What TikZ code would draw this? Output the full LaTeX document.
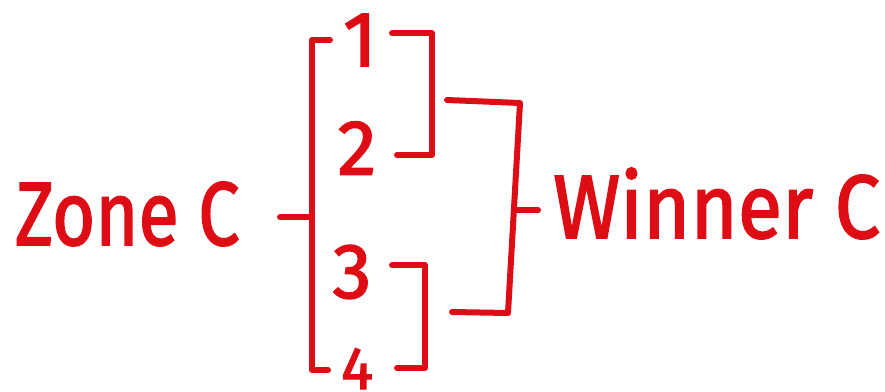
\documentclass[tikz,border=0pt]{standalone}
\usepackage{fontspec}
\setmainfont{Fira Sans}
\newfontfamily\handfont{Fira Sans}[FakeBold=2]
\definecolor{ink}{RGB}{222,12,20}

\tikzset{
  pen/.style={ink, line width=6pt, line cap=round, line join=round},
  handtext/.style={ink, font=\fontsize{90}{90}\handfont, inner sep=0pt, anchor=base west},
  seednum/.style={ink, font=\fontsize{78}{78}\handfont, inner sep=0pt}
}

\begin{document}
\begin{tikzpicture}[x=1pt, y=1pt]
  \useasboundingbox (0,0) rectangle (885,-391);

  \node[handtext] (zone) at (15,-245) {\scalebox{0.82}[1]{Zone C}};
  \node[handtext] (winner) at (553,-238) {\scalebox{0.9}[1]{Winner C}};

  \node[seednum] (s1) at (360,-40) {1};
  \node[seednum] (s2) at (357,-148) {2};
  \node[seednum] (s3) at (352,-272) {3};
  \node[seednum, font=\fontsize{60}{60}\handfont, anchor=base] (s4) at (357,-389) {4};

  % first round
  \coordinate (zmid) at (312,-217);
  \draw[pen] (330,-40) -- (312,-40) -- (312,-370) -- (328,-370);
  \draw[pen] (zmid) -- ++(-32,0);
  \draw[pen] (392,-33) -- (432,-33) -- (432,-155) -- (397,-155);
  \draw[pen] (392,-265) -- (425,-265) -- (425,-368) -- (397,-368);

  % final
  \coordinate (wmid) at (514,-210);
  \draw[pen] (447,-100) -- (520,-103) -- (508,-313) -- (452,-312);
  \draw[pen] (wmid) -- ++(24,0);
\end{tikzpicture}
\end{document}
